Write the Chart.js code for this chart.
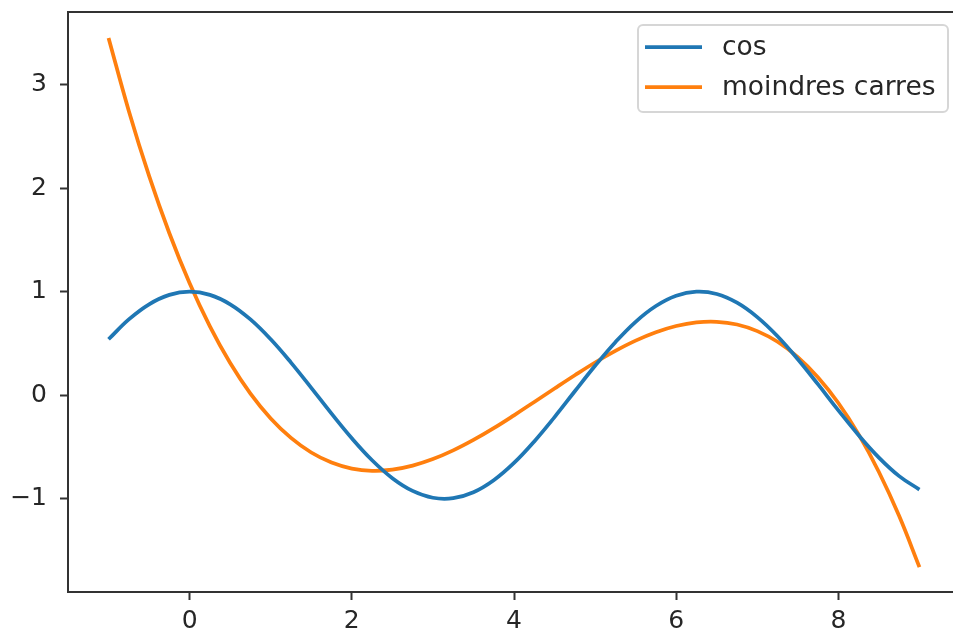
<!DOCTYPE html>
<html>
<head>
<meta charset="utf-8">
<script src="https://cdn.jsdelivr.net/npm/chart.js@4/dist/chart.umd.min.js"></script>
<style>
  html, body { margin:0; padding:0; background:#fff; overflow:hidden; }
  #wrap { width:961px; height:637px; }
</style>
</head>
<body>
<div id="wrap"><canvas id="c" width="961" height="637"></canvas></div>
<script>
// sample positions along x
const xs = [-1, -0.75, -0.5, -0.25, 0, 0.25, 0.5, 0.75, 1, 1.25, 1.5, 1.75, 2, 2.25, 2.5, 2.75,
  3, 3.25, 3.5, 3.75, 4, 4.25, 4.5, 4.75, 5, 5.25, 5.5, 5.75, 6, 6.25, 6.5, 6.75,
  7, 7.25, 7.5, 7.75, 8, 8.25, 8.5, 8.75, 9];

const cosVals = [0.540, 0.732, 0.878, 0.969, 1.000, 0.969, 0.878, 0.732, 0.540, 0.315, 0.071, -0.178,
  -0.416, -0.628, -0.801, -0.924, -0.990, -0.994, -0.937, -0.821, -0.654, -0.446, -0.211, 0.038,
  0.284, 0.512, 0.709, 0.861, 0.960, 0.999, 0.977, 0.893, 0.754, 0.569, 0.347, 0.104,
  -0.146, -0.386, -0.602, -0.781, -0.911];

const lsqVals = [3.450, 2.745, 2.117, 1.564, 1.081, 0.665, 0.311, 0.016, -0.224, -0.412, -0.553, -0.650,
  -0.708, -0.730, -0.719, -0.680, -0.617, -0.533, -0.432, -0.318, -0.194, -0.065, 0.065, 0.193,
  0.316, 0.428, 0.527, 0.608, 0.668, 0.703, 0.709, 0.683, 0.619, 0.516, 0.368, 0.172,
  -0.075, -0.378, -0.741, -1.167, -1.660];

const seriesNames = ['cos', 'moindres carres'];
const seriesColors = ['#1f77b4', '#ff7f0e'];

const FONT = '"DejaVu Sans", sans-serif';
const TXT = '#262626';

// top spine (right spine falls outside the picture)
const frame = {
  id: 'frame',
  afterDraw(chart) {
    const a = chart.chartArea, ctx = chart.ctx;
    ctx.save();
    ctx.strokeStyle = '#333';
    ctx.lineWidth = 2;
    ctx.beginPath();
    ctx.moveTo(a.left, a.top);
    ctx.lineTo(a.right, a.top);
    ctx.stroke();
    ctx.restore();
  }
};

// matplotlib style legend box, upper right
const boxLegend = {
  id: 'boxLegend',
  afterDraw(chart) {
    const a = chart.chartArea, ctx = chart.ctx;
    const w = 310, h = 87;
    const x0 = 638, y0 = a.top + 13;
    ctx.save();
    ctx.fillStyle = 'rgba(255,255,255,0.8)';
    ctx.strokeStyle = '#d6d6d6';
    ctx.lineWidth = 2;
    ctx.beginPath();
    ctx.roundRect(x0, y0, w, h, 5);
    ctx.fill();
    ctx.stroke();
    ctx.font = '26.5px ' + FONT;
    ctx.textBaseline = 'middle';
    ctx.fillStyle = TXT;
    chart.data.datasets.forEach((ds, i) => {
      const yy = y0 + 22 + i * 40;
      ctx.strokeStyle = ds.borderColor;
      ctx.lineWidth = 3.75;
      ctx.beginPath();
      ctx.moveTo(x0 + 7, yy);
      ctx.lineTo(x0 + 64, yy);
      ctx.stroke();
      ctx.fillText(ds.label, x0 + 84, yy + 1);
    });
    ctx.restore();
  }
};

const datasets = [cosVals, lsqVals].map((vals, i) => ({
  label: seriesNames[i],
  data: xs.map((x, j) => ({ x: x, y: vals[j] })),
  borderColor: seriesColors[i],
  borderWidth: 3.75,
  pointRadius: 0,
  tension: 0.4,
  fill: false
}));

const tickFmt = v => String(v).replace('-', '\u2212');

new Chart(document.getElementById('c'), {
  type: 'line',
  data: { datasets: datasets },
  options: {
    responsive: false,
    animation: false,
    layout: { padding: { top: 12, right: 1, left: 0, bottom: 0 } },
    plugins: { legend: { display: false }, tooltip: { enabled: false } },
    scales: {
      x: {
        type: 'linear',
        min: -1.5, max: 9.5,
        afterFit: s => { s.height = 45; s.paddingLeft = 0; s.paddingRight = 0; },
        border: { color: '#333', width: 2 },
        grid: { drawOnChartArea: false, tickLength: 8, tickColor: '#333', tickWidth: 2 },
        ticks: { stepSize: 2, includeBounds: false, padding: 6, color: TXT,
                 font: { family: FONT, size: 25 }, callback: tickFmt }
      },
      y: {
        type: 'linear',
        min: -1.9, max: 3.7,
        afterFit: s => { s.width = 68; s.paddingTop = 0; s.paddingBottom = 0; },
        border: { color: '#333', width: 2 },
        grid: { drawOnChartArea: false, tickLength: 8, tickColor: '#333', tickWidth: 2 },
        ticks: { stepSize: 1, includeBounds: false, padding: 13, color: TXT,
                 font: { family: FONT, size: 25 }, callback: tickFmt }
      }
    }
  },
  plugins: [frame, boxLegend]
});
</script>
</body>
</html>
